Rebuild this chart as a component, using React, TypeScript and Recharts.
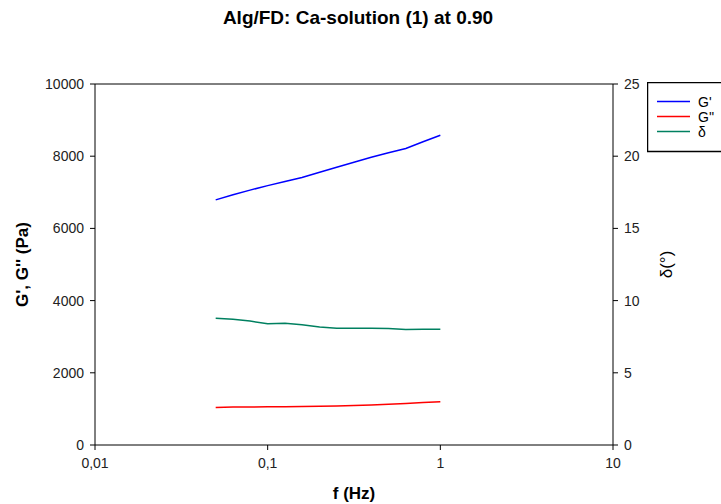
import React from "react";
import { LineChart, Line, XAxis, YAxis, ReferenceLine } from "recharts";

const freqHz = [0.05, 0.063, 0.079, 0.1, 0.126, 0.158, 0.2, 0.251, 0.316, 0.398, 0.501, 0.631, 0.794, 1.0];
const gPrime = [6790, 6930, 7060, 7185, 7300, 7410, 7555, 7695, 7830, 7970, 8095, 8215, 8400, 8580];
const gDoublePrime = [1040, 1055, 1055, 1058, 1060, 1065, 1070, 1080, 1095, 1110, 1130, 1150, 1175, 1200];
const delta = [8.78, 8.7, 8.58, 8.4, 8.43, 8.32, 8.18, 8.08, 8.08, 8.08, 8.07, 8.0, 8.02, 8.02];

const xTicks = [0.01, 0.1, 1, 10];
const leftTicks = [0, 2000, 4000, 6000, 8000, 10000];
const rightTicks = [0, 5, 10, 15, 20, 25];

const data = freqHz.map((f, i) => ({ f, g1: gPrime[i], g2: gDoublePrime[i], d: delta[i] }));

const FONT = "Arial, 'Liberation Sans', sans-serif";
const tickStyle = { fontSize: 14, fill: "#222", fontFamily: FONT };

const legendItems = [
  { label: "G'", color: "#0000ff" },
  { label: "G''", color: "#ff0000" },
  { label: "δ", color: "#008060" },
];

export default function App() {
  return (
    <div style={{ position: "absolute", left: 0, top: 0, width: 721, height: 504, background: "#fff", fontFamily: FONT }}>
      <div style={{ position: "absolute", top: 7, left: 0, width: 716, textAlign: "center", fontWeight: "bold", fontSize: 19 }}>
        Alg/FD: Ca-solution (1) at 0.90
      </div>
      <LineChart width={721} height={504} data={data} margin={{ top: 84, right: 0, left: 0, bottom: 0 }}>
        <XAxis
          dataKey="f"
          type="number"
          scale="log"
          domain={[0.01, 10]}
          ticks={xTicks}
          allowDataOverflow
          tickFormatter={(v) => String(v).replace(".", ",")}
          tick={tickStyle}
          tickSize={5}
          tickMargin={8}
          stroke="#000"
          height={59}
          label={{ value: "f (Hz)", position: "insideBottom", offset: 5, style: { fontWeight: "bold", fontSize: 17, fill: "#000", fontFamily: FONT } }}
        />
        <YAxis
          yAxisId="left"
          domain={[0, 10000]}
          ticks={leftTicks}
          tick={tickStyle}
          tickSize={5}
          tickMargin={6}
          stroke="#000"
          width={95}
          label={{ value: "G', G'' (Pa)", angle: -90, position: "insideLeft", offset: 22, style: { fontWeight: "bold", fontSize: 17, fill: "#000", textAnchor: "middle", fontFamily: FONT } }}
        />
        <YAxis
          yAxisId="right"
          orientation="right"
          domain={[0, 25]}
          ticks={rightTicks}
          tick={tickStyle}
          tickSize={5}
          tickMargin={6}
          stroke="#000"
          width={108}
          label={{ value: "δ(°)", angle: -90, position: "insideRight", offset: 55, style: { fontSize: 17, fill: "#000", textAnchor: "middle", fontFamily: FONT } }}
        />
        <ReferenceLine yAxisId="left" y={10000} stroke="#000" />
        <Line yAxisId="left" dataKey="g1" stroke="#0000ff" strokeWidth={1.5} dot={false} isAnimationActive={false} />
        <Line yAxisId="left" dataKey="g2" stroke="#ff0000" strokeWidth={1.5} dot={false} isAnimationActive={false} />
        <Line yAxisId="right" dataKey="d" stroke="#008060" strokeWidth={1.5} dot={false} isAnimationActive={false} />
      </LineChart>
      <svg style={{ position: "absolute", left: 647, top: 82 }} width={80} height={71}>
        <rect x={0.5} y={0.5} width={90} height={69} fill="#fff" stroke="#000" strokeWidth={1.5} />
        {legendItems.map((it, i) => (
          <g key={it.label}>
            <line x1={10} x2={43} y1={19.5 + i * 15} y2={19.5 + i * 15} stroke={it.color} strokeWidth={1.5} />
            <text x={51} y={24.5 + i * 15} fontSize={14} fill="#000" fontFamily={FONT}>{it.label}</text>
          </g>
        ))}
      </svg>
    </div>
  );
}
